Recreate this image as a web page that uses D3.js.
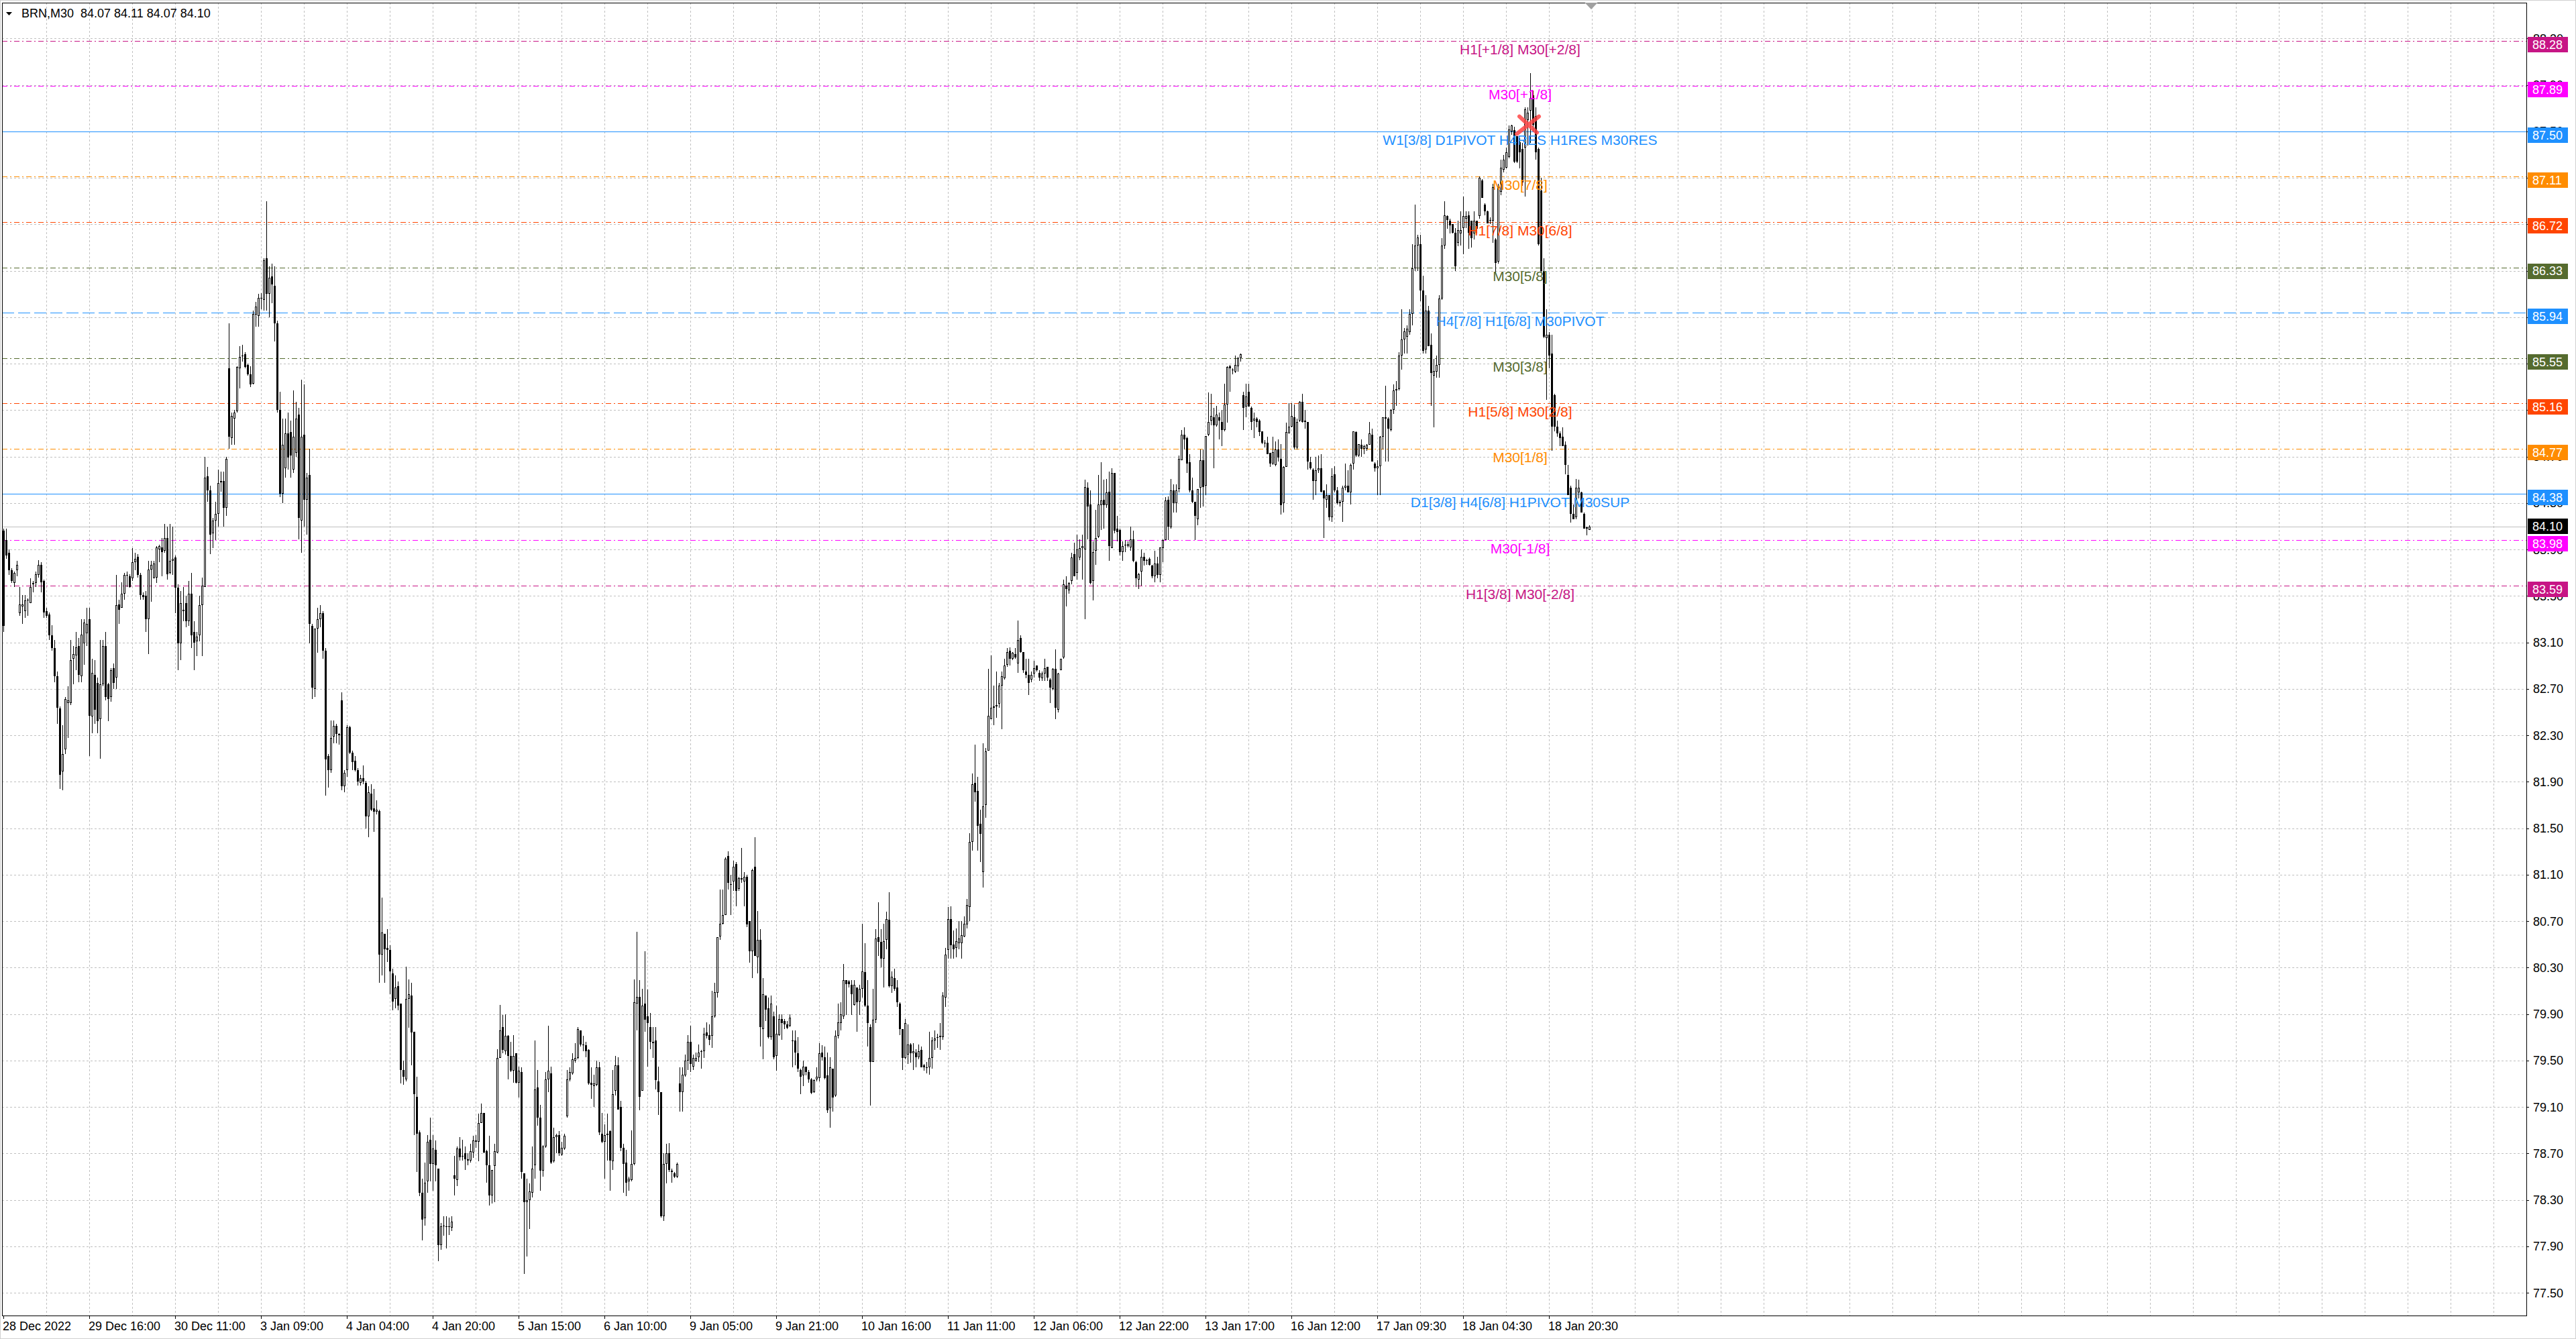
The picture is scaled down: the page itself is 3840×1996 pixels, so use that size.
<!DOCTYPE html>
<html>
<head>
<meta charset="utf-8">
<script src="https://cdn.jsdelivr.net/npm/d3@7"></script>
<style>
  html, body { margin: 0; padding: 0; background: #fff; overflow: hidden; }
  svg { display: block; }
</style>
</head>
<body>
<svg id="chart"></svg>
<script>
// ---- data ----
const chartTitle = 'BRN,M30  84.07 84.11 84.07 84.10';

const timeLabels = ['28 Dec 2022', '29 Dec 16:00', '30 Dec 11:00', '3 Jan 09:00', '4 Jan 04:00',
  '4 Jan 20:00', '5 Jan 15:00', '6 Jan 10:00', '9 Jan 05:00', '9 Jan 21:00', '10 Jan 16:00',
  '11 Jan 11:00', '12 Jan 06:00', '12 Jan 22:00', '13 Jan 17:00', '16 Jan 12:00',
  '17 Jan 09:30', '18 Jan 04:30', '18 Jan 20:30'];
const timeLabelBars = [0, 32, 64, 96, 128, 160, 192, 224, 256, 288, 320, 352, 384, 416, 448, 480, 512, 544, 576];

const priceTicks = [77.50, 77.90, 78.30, 78.70, 79.10, 79.50, 79.90, 80.30, 80.70, 81.10, 81.50,
  81.90, 82.30, 82.70, 83.10, 83.50, 83.90, 84.30, 84.70, 85.10, 85.50, 85.90, 86.30, 86.70,
  87.10, 87.50, 87.90, 88.30];

const levelPrices = [88.28, 87.89, 87.50, 87.11, 86.72, 86.33, 85.94, 85.55, 85.16, 84.77, 84.38, 83.98, 83.59];
const levelNames = ['H1[+1/8] M30[+2/8]', 'M30[+1/8]', 'W1[3/8] D1PIVOT H4RES H1RES M30RES', 'M30[7/8]',
  'H1[7/8] M30[6/8]', 'M30[5/8]', 'H4[7/8] H1[6/8] M30PIVOT', 'M30[3/8]', 'H1[5/8] M30[2/8]', 'M30[1/8]',
  'D1[3/8] H4[6/8] H1PIVOT M30SUP', 'M30[-1/8]', 'H1[3/8] M30[-2/8]'];

const bidPrice = 84.10;
const crossBar = 568;
const crossPrice = 87.56;

// [open, high, low, close] per M30 bar
const candles = [
[84.06,84.08,83.19,83.24],[83.98,84.08,83.82,83.85],[83.87,83.90,83.68,83.72],[83.72,83.74,83.61,83.63],[83.61,83.71,83.58,83.70],[83.72,83.80,83.67,83.77],
[83.35,83.58,83.33,83.43],[83.41,83.51,83.26,83.43],[83.37,83.51,83.31,83.46],[83.46,83.48,83.33,83.47],[83.44,83.65,83.44,83.58],[83.60,83.63,83.53,83.61],
[83.61,83.71,83.58,83.69],[83.68,83.81,83.66,83.77],[83.77,83.79,83.53,83.62],[83.63,83.64,83.31,83.36],[83.37,83.40,83.31,83.33],[83.34,83.36,83.12,83.16],
[83.16,83.25,83.03,83.05],[83.05,83.12,82.76,82.81],[82.81,82.85,82.40,82.54],[82.53,82.55,81.84,81.96],[81.99,82.39,81.83,82.14],[82.18,82.63,82.14,82.61],
[82.58,82.72,82.28,82.60],[82.58,83.12,82.56,82.95],[82.96,83.07,82.74,83.00],[82.99,83.19,82.86,83.06],[83.07,83.14,82.76,82.82],[82.81,83.30,82.76,83.17],
[83.09,83.30,82.91,83.27],[83.18,83.40,83.07,83.26],[83.30,83.40,82.12,82.47],[82.46,82.96,82.32,82.84],[82.82,82.95,82.40,82.52],[82.75,82.80,82.32,82.42],
[82.44,83.12,82.10,82.74],[82.74,83.12,82.72,83.07],[83.07,83.19,82.60,82.63],[82.74,82.75,82.42,82.61],[82.63,82.88,82.59,82.86],[82.88,82.92,82.70,82.75],
[82.80,83.68,82.70,83.42],[83.43,83.47,83.26,83.38],[83.40,83.62,83.40,83.52],[83.52,83.70,83.47,83.68],[83.68,83.71,83.58,83.68],[83.67,83.69,83.57,83.58],
[83.65,83.91,83.63,83.79],[83.79,83.87,83.72,83.82],[83.84,83.86,83.66,83.68],[83.68,83.70,83.47,83.51],[83.51,83.53,83.47,83.49],[83.50,83.54,83.19,83.30],
[83.30,83.80,83.00,83.73],[83.73,83.80,83.45,83.77],[83.65,83.80,83.65,83.78],[83.66,83.93,83.61,83.92],[83.90,83.94,83.79,83.93],[83.92,84.00,83.67,83.88],
[83.89,84.12,83.87,84.00],[84.00,84.10,83.64,83.69],[83.70,84.12,83.69,83.80],[83.80,84.10,83.68,83.82],[83.83,83.85,83.35,83.57],[83.57,83.60,82.86,83.09],
[83.09,83.54,82.95,83.44],[83.37,83.58,83.28,83.38],[83.44,83.50,83.23,83.28],[83.28,83.63,83.24,83.52],[83.52,83.70,83.05,83.16],[83.19,83.28,82.86,83.10],
[83.11,83.19,82.98,83.15],[83.16,83.50,83.11,83.42],[83.42,83.66,82.98,83.59],[83.58,84.70,83.58,84.52],[84.53,84.61,84.31,84.41],[84.41,84.45,83.86,84.03],
[84.04,84.17,83.91,84.15],[84.15,84.31,83.98,84.21],[84.21,84.59,84.10,84.47],[84.48,84.57,84.40,84.49],[84.49,84.57,84.10,84.26],[84.26,84.70,84.19,84.68],
[85.46,85.85,84.77,84.87],[84.86,85.08,84.80,85.05],[85.03,85.10,84.80,85.08],[85.09,85.48,85.08,85.47],[85.46,85.65,85.29,85.56],[85.57,85.66,85.52,85.57],
[85.58,85.60,85.46,85.47],[85.49,85.50,85.40,85.41],[85.41,85.48,85.30,85.32],[85.33,85.96,85.32,85.93],[85.92,86.03,85.82,85.99],[85.91,86.10,85.82,86.07],
[86.06,86.11,85.97,86.07],[86.05,86.41,85.96,86.39],[86.41,86.90,85.96,86.10],[86.10,86.34,85.90,86.24],[86.25,86.36,86.02,86.18],[86.17,86.34,85.69,85.85],
[85.85,85.87,85.08,85.10],[85.10,85.26,84.35,84.38],[84.38,85.03,84.30,84.80],[84.60,85.03,84.52,84.90],[84.90,85.08,84.59,84.69],[84.91,85.01,84.52,84.71],
[84.59,85.27,84.56,84.87],[84.73,85.17,84.70,85.03],[85.06,85.12,83.99,84.17],[84.15,85.36,83.87,84.87],[84.89,85.32,84.10,84.33],[84.33,84.56,84.03,84.52],
[84.54,84.77,83.09,83.26],[83.24,83.26,82.61,82.71],[82.70,83.22,82.63,83.22],[83.22,83.40,83.01,83.30],[83.30,83.42,83.23,83.35],[83.35,83.37,82.96,83.03],
[83.03,83.05,81.78,82.09],[82.12,82.14,81.85,82.00],[82.00,82.43,81.98,82.28],[82.29,82.43,82.23,82.38],[82.38,82.40,82.23,82.31],[82.31,82.32,82.22,82.30],
[82.60,82.67,81.83,81.86],[81.86,82.00,81.81,81.98],[82.00,82.39,81.94,82.37],[82.37,82.38,82.14,82.15],[82.15,82.17,82.00,82.07],[82.08,82.12,81.99,82.00],
[82.00,82.02,81.87,81.90],[81.89,81.96,81.87,81.93],[81.93,82.04,81.88,81.90],[81.89,81.91,81.50,81.60],[81.60,81.86,81.42,81.81],[81.80,81.88,81.65,81.66],
[81.67,81.84,81.47,81.64],[81.64,81.74,81.62,81.66],[81.65,81.66,80.17,80.41],[80.41,80.90,80.23,80.60],[80.59,80.59,80.17,80.46],[80.47,80.63,80.35,80.45],
[80.45,80.49,80.07,80.27],[80.25,80.29,79.93,80.01],[80.03,80.23,79.95,80.13],[80.14,80.18,79.93,79.97],[79.99,79.99,79.30,79.42],[79.42,79.50,79.29,79.36],
[79.34,80.31,79.32,80.03],[80.03,80.20,79.78,80.07],[80.06,80.17,79.46,79.74],[79.75,79.75,78.86,79.21],[79.19,79.36,78.54,78.87],[78.88,78.90,78.33,78.36],
[78.36,78.48,77.95,78.13],[78.14,78.62,78.08,78.45],[78.46,78.86,78.36,78.80],[78.82,79.01,78.46,78.61],[78.61,78.86,78.38,78.74],[78.73,78.81,78.46,78.60],
[78.57,78.57,77.77,77.91],[77.91,78.10,77.87,78.07],[78.07,78.16,77.99,78.08],[78.07,78.16,77.88,78.07],[78.07,78.15,78.00,78.07],[78.06,78.16,78.03,78.11],
[78.51,78.68,78.34,78.48],[78.47,78.76,78.42,78.74],[78.74,78.84,78.64,78.67],[78.68,78.82,78.64,78.68],[78.70,78.76,78.56,78.65],[78.65,78.70,78.60,78.64],
[78.64,78.78,78.62,78.72],[78.71,78.85,78.66,78.81],[78.81,78.86,78.75,78.80],[78.80,79.04,78.63,78.96],[78.96,79.13,78.96,79.05],[79.05,79.05,78.70,78.71],
[78.72,78.73,78.45,78.60],[78.60,78.85,78.25,78.34],[78.34,78.56,78.27,78.56],[78.59,78.78,78.28,78.72],[78.71,79.60,78.70,79.52],[79.52,79.98,79.52,79.76],
[79.79,79.89,79.56,79.59],[79.58,79.90,79.55,79.71],[79.71,79.72,79.34,79.54],[79.54,79.66,79.40,79.41],[79.41,79.72,79.31,79.54],[79.56,79.56,79.30,79.31],
[79.31,79.45,79.18,79.41],[79.40,79.44,78.48,78.54],[78.53,78.53,77.66,78.28],[78.28,78.48,77.81,78.30],[78.30,78.44,78.05,78.37],[78.36,78.76,78.32,78.57],
[78.60,79.67,78.48,79.25],[79.27,79.42,78.94,79.01],[79.01,79.12,78.38,78.55],[78.55,78.77,78.50,78.76],[78.76,79.40,78.75,79.34],[79.34,79.80,79.23,79.41],
[79.39,79.45,78.61,78.62],[78.63,78.92,78.62,78.84],[78.84,78.87,78.70,78.86],[78.86,78.89,78.68,78.70],[78.69,78.80,78.68,78.75],[78.74,78.87,78.73,78.85],
[79.02,79.42,79.01,79.34],[79.34,79.44,79.32,79.40],[79.39,79.56,79.38,79.51],[79.50,79.65,79.48,79.52],[79.52,79.79,79.51,79.77],[79.76,79.76,79.62,79.64],
[79.64,79.71,79.58,79.63],[79.63,79.66,79.53,79.58],[79.59,79.60,79.29,79.30],[79.31,79.44,79.17,79.29],[79.28,79.38,79.10,79.30],[79.29,79.50,79.28,79.44],
[79.44,79.49,78.86,78.88],[78.87,79.05,78.79,78.80],[78.80,78.95,78.48,78.86],[78.87,79.04,78.64,78.86],[78.89,78.90,78.38,78.64],[78.63,79.42,78.56,79.21],
[79.24,79.54,79.20,79.46],[79.46,79.53,79.08,79.08],[79.10,79.15,78.72,78.75],[78.75,78.78,78.36,78.61],[78.62,78.73,78.33,78.45],[78.46,78.50,78.38,78.48],
[78.47,78.90,78.46,78.61],[78.61,80.20,78.60,80.00],[79.99,80.61,79.76,80.05],[80.05,80.19,79.07,79.19],[79.24,80.12,79.24,79.97],[79.99,80.44,79.75,79.85],
[79.88,80.11,79.45,79.82],[79.79,79.91,79.60,79.66],[79.66,79.79,79.52,79.65],[79.67,79.79,79.25,79.33],[79.32,79.45,79.03,79.23],[79.23,79.23,78.15,78.16],
[78.16,78.70,78.12,78.61],[78.61,78.78,78.44,78.70],[78.70,78.79,78.54,78.56],[78.55,78.57,78.45,78.54],[78.53,78.54,78.49,78.50],[78.50,78.62,78.49,78.61],
[79.30,79.44,79.06,79.23],[79.23,79.44,79.06,79.38],[79.37,79.55,79.36,79.50],[79.50,79.72,79.42,79.66],[79.66,79.80,79.40,79.47],[79.45,79.55,79.42,79.52],
[79.50,79.57,79.49,79.52],[79.53,79.64,79.49,79.57],[79.58,79.59,79.43,79.58],[79.58,79.78,79.52,79.73],[79.74,79.83,79.69,79.71],[79.72,79.81,79.63,79.68],
[79.71,80.10,79.61,79.88],[79.88,80.17,79.87,80.09],[80.08,80.56,80.04,80.56],[80.57,80.97,80.54,80.68],[80.68,80.97,80.67,80.75],[80.75,81.25,80.75,81.24],
[81.26,81.30,80.97,81.03],[81.02,81.10,80.75,81.01],[81.04,81.22,80.96,81.17],[81.19,81.21,80.83,80.96],[80.98,81.08,80.96,81.07],[81.07,81.33,81.03,81.06],
[81.04,81.12,80.83,81.08],[81.08,81.10,80.65,80.67],[80.70,80.70,80.34,80.44],[80.44,81.15,80.21,81.14],[81.17,81.42,80.40,80.40],[80.39,80.79,80.25,80.54],
[80.54,80.63,79.62,79.79],[79.77,80.21,79.51,80.07],[80.06,80.06,79.84,79.94],[79.95,80.04,79.69,79.70],[79.70,80.06,79.68,79.99],[79.88,79.92,79.51,79.53],
[79.54,79.97,79.41,79.73],[79.72,79.90,79.71,79.86],[79.86,79.90,79.68,79.82],[79.84,79.86,79.77,79.81],[79.81,79.84,79.77,79.78],[79.80,79.90,79.79,79.87],
[79.67,79.76,79.44,79.67],[79.67,79.76,79.46,79.57],[79.56,79.70,79.40,79.43],[79.42,79.43,79.21,79.36],[79.37,79.50,79.28,79.45],[79.45,79.45,79.37,79.40],
[79.40,79.42,79.31,79.34],[79.34,79.35,79.21,79.22],[79.23,79.34,79.22,79.33],[79.34,79.44,79.32,79.36],[79.35,79.65,79.32,79.56],[79.57,79.63,79.50,79.53],
[79.53,79.62,79.34,79.35],[79.37,79.57,79.05,79.07],[79.09,79.53,78.92,79.44],[79.43,79.43,79.06,79.18],[79.20,79.76,79.19,79.71],[79.71,79.99,79.69,79.83],
[79.82,80.00,79.76,79.90],[79.88,80.33,79.86,80.19],[80.19,80.19,79.89,80.16],[80.18,80.19,80.13,80.16],[80.15,80.19,79.89,80.07],[79.98,80.19,79.97,80.15],
[80.13,80.13,79.75,80.00],[80.01,80.15,79.89,80.12],[80.12,80.68,80.04,80.27],[80.26,80.51,79.96,79.97],[79.97,80.19,79.62,79.82],[79.79,79.81,79.11,79.49],
[79.49,80.12,79.49,79.85],[79.85,80.63,79.82,80.55],[80.56,80.86,80.40,80.52],[80.52,80.63,80.30,80.38],[80.38,80.68,80.13,80.53],[80.54,80.78,80.46,80.72],
[80.71,80.95,80.13,80.14],[80.14,80.27,80.08,80.22],[80.21,80.29,80.10,80.12],[80.13,80.19,79.96,80.00],[79.99,80.00,79.72,79.77],[79.77,79.77,79.42,79.52],
[79.52,79.86,79.51,79.82],[79.55,79.81,79.47,79.64],[79.64,79.65,79.48,79.56],[79.56,79.65,79.42,79.58],[79.57,79.60,79.44,79.53],[79.53,79.64,79.51,79.58],
[79.59,79.62,79.44,79.44],[79.46,79.47,79.41,79.44],[79.44,79.49,79.39,79.44],[79.44,79.75,79.38,79.52],[79.52,79.70,79.43,79.67],[79.67,79.76,79.59,79.69],
[79.70,79.73,79.61,79.70],[79.71,79.82,79.59,79.70],[79.70,80.09,79.68,80.06],[80.04,80.47,79.96,80.41],[80.45,80.82,80.38,80.72],[80.72,80.83,80.38,80.49],
[80.50,80.62,80.38,80.46],[80.47,80.64,80.39,80.53],[80.51,80.70,80.46,80.55],[80.51,80.70,80.38,80.58],[80.57,80.74,80.56,80.68],[80.67,80.89,80.64,80.84],
[80.82,81.46,80.70,81.38],[81.38,81.97,81.31,81.88],[81.89,82.22,81.73,81.81],[81.82,81.94,81.31,81.52],[81.54,81.66,81.21,81.45],[81.12,82.23,80.99,81.69],
[81.70,82.19,81.59,82.16],[82.17,82.87,82.17,82.47],[82.44,82.99,82.44,82.54],[82.54,82.73,82.39,82.55],[82.55,82.85,82.45,82.56],[82.57,82.75,82.54,82.73],
[82.73,82.85,82.35,82.81],[82.79,82.96,82.78,82.90],[82.91,83.05,82.89,83.02],[83.03,83.06,82.90,82.96],[82.96,83.02,82.95,83.01],[83.00,83.05,82.96,82.97],
[82.92,83.29,82.84,83.12],[83.14,83.16,83.01,83.02],[83.02,83.02,82.84,82.86],[82.85,82.96,82.79,82.82],[82.82,82.96,82.65,82.75],[82.78,82.85,82.76,82.82],
[82.83,82.94,82.80,82.88],[82.90,82.90,82.85,82.86],[82.84,82.86,82.77,82.80],[82.79,82.85,82.77,82.83],[82.83,82.96,82.77,82.88],[82.89,82.89,82.77,82.80],
[82.78,82.79,82.58,82.71],[82.70,82.88,82.69,82.87],[82.87,83.04,82.44,82.54],[82.52,82.84,82.50,82.83],[82.86,82.96,82.86,82.96],[82.97,83.64,82.96,83.60],
[83.59,83.67,83.41,83.56],[83.55,83.62,83.52,83.61],[83.63,83.87,83.60,83.83],[83.86,83.96,83.67,83.67],[83.70,84.03,83.64,83.90],[83.83,83.99,83.81,83.91],
[83.91,84.03,83.64,83.93],[83.90,84.50,83.30,84.44],[84.43,84.48,83.99,84.27],[84.29,84.41,83.60,83.61],[83.63,83.97,83.46,83.88],[83.89,84.24,83.77,84.00],
[84.01,84.54,84.00,84.29],[84.28,84.65,84.07,84.32],[84.33,84.50,84.08,84.28],[84.28,84.51,84.26,84.39],[84.40,84.57,83.80,83.93],[83.91,84.60,83.91,84.56],
[84.56,84.56,84.04,84.06],[84.08,84.19,83.97,84.05],[84.07,84.08,83.85,83.88],[83.88,83.97,83.80,83.93],[83.94,83.98,83.88,83.94],[83.93,83.97,83.92,83.95],
[83.92,84.10,83.89,83.99],[83.99,84.06,83.79,83.80],[83.79,83.80,83.58,83.65],[83.64,83.70,83.56,83.69],[83.71,83.90,83.59,83.84],[83.84,83.87,83.76,83.80],
[83.81,83.82,83.77,83.81],[83.82,83.83,83.76,83.77],[83.76,83.77,83.65,83.67],[83.67,83.89,83.62,83.78],[83.78,83.84,83.65,83.68],[83.68,83.92,83.62,83.92],
[83.91,83.99,83.79,83.98],[83.98,84.35,83.98,84.32],[84.33,84.36,83.98,84.10],[84.09,84.51,84.08,84.41],[84.41,84.46,84.22,84.30],[84.30,84.46,84.22,84.41],
[84.42,84.71,84.39,84.68],[84.67,84.93,84.67,84.89],[84.89,84.95,84.76,84.85],[84.86,84.87,84.56,84.64],[84.65,84.72,84.39,84.41],[84.41,84.52,84.30,84.31],
[84.31,84.31,83.98,84.19],[84.16,84.42,84.11,84.42],[84.43,84.76,84.26,84.67],[84.67,84.76,84.27,84.44],[84.45,84.88,84.37,84.88],[84.89,85.25,84.88,85.00],
[85.01,85.24,84.97,85.05],[85.04,85.12,84.60,84.97],[84.97,85.14,84.96,85.06],[85.04,85.08,84.85,85.01],[85.00,85.10,84.79,84.93],[84.93,85.33,84.92,85.15],
[85.15,85.48,84.99,85.47],[85.48,85.49,85.26,85.46],[85.45,85.46,85.41,85.45],[85.43,85.57,85.42,85.49],[85.48,85.56,85.43,85.55],[85.55,85.59,85.52,85.58],
[85.23,85.26,84.93,85.12],[85.13,85.33,85.04,85.22],[85.26,85.33,85.13,85.13],[85.12,85.13,84.93,85.00],[85.01,85.08,84.86,85.03],[85.03,85.04,84.95,85.00],
[85.01,85.02,84.88,84.91],[84.92,84.92,84.81,84.82],[84.82,84.84,84.78,84.82],[84.82,84.87,84.72,84.72],[84.73,84.73,84.61,84.64],[84.64,84.87,84.63,84.74],
[84.63,84.83,84.62,84.76],[84.76,84.85,84.66,84.69],[84.68,84.81,84.20,84.28],[84.30,84.62,84.22,84.61],[84.61,84.99,84.61,84.91],[84.90,85.16,84.90,84.96],
[84.96,85.16,84.95,85.05],[85.04,85.15,84.76,84.78],[84.78,85.03,84.76,85.00],[85.01,85.18,85.00,85.17],[85.17,85.24,84.99,85.00],[85.01,85.10,84.94,85.00],
[85.00,85.00,84.59,84.66],[84.65,84.70,84.59,84.60],[84.59,84.60,84.33,84.49],[84.49,84.70,84.37,84.58],[84.58,84.71,84.56,84.60],[84.60,84.72,84.39,84.40],
[84.41,84.41,84.00,84.34],[84.33,84.46,84.26,84.37],[84.37,84.37,84.15,84.18],[84.18,84.60,84.14,84.53],[84.55,84.62,84.39,84.41],[84.41,84.44,84.29,84.30],
[84.30,84.33,84.27,84.31],[84.31,84.45,84.14,84.43],[84.43,84.64,84.41,84.45],[84.45,84.58,84.39,84.39],[84.39,84.64,84.29,84.63],[84.64,84.92,84.59,84.92],
[84.91,84.92,84.70,84.71],[84.71,84.81,84.70,84.81],[84.80,84.85,84.70,84.77],[84.77,84.80,84.72,84.79],[84.77,84.81,84.75,84.80],[84.80,85.00,84.80,84.90],
[84.89,84.94,84.66,84.66],[84.64,84.65,84.57,84.60],[84.60,84.67,84.37,84.62],[84.62,84.88,84.37,84.87],[84.87,85.04,84.76,85.04],[85.04,85.31,84.66,85.03],
[85.03,85.04,84.66,84.94],[84.93,85.11,84.92,85.10],[85.10,85.32,85.07,85.27],[85.27,85.35,85.14,85.28],[85.28,85.60,85.27,85.57],[85.57,85.97,85.45,85.71],
[85.71,85.81,85.59,85.78],[85.73,85.83,85.59,85.80],[85.77,85.97,85.75,85.93],[85.93,86.53,85.83,86.32],[86.32,86.87,86.30,86.52],[86.52,86.61,86.30,86.59],
[86.53,86.61,86.04,86.13],[86.13,86.26,85.59,85.61],[85.62,86.09,85.59,85.96],[85.96,86.00,85.65,85.65],[85.66,85.76,85.14,85.42],[85.40,85.54,84.95,85.44],
[85.43,85.57,85.38,85.49],[85.49,86.09,85.38,86.06],[86.06,86.58,86.05,86.52],[86.52,86.90,86.49,86.78],[86.77,86.78,86.66,86.74],[86.73,86.75,86.62,86.69],
[86.70,86.70,86.62,86.63],[86.63,86.67,86.30,86.34],[86.54,86.73,86.51,86.65],[86.62,86.81,86.52,86.65],[86.67,86.94,86.44,86.77],[86.75,86.81,86.67,86.77],
[86.78,86.81,86.49,86.63],[86.73,86.73,86.50,86.58],[86.62,86.81,86.57,86.73],[86.73,86.73,86.62,86.66],[86.77,87.11,86.75,87.10],[87.08,87.09,86.93,86.93],
[86.87,86.88,86.78,86.81],[86.81,86.82,86.71,86.71],[86.73,86.76,86.70,86.74],[86.73,87.05,86.54,87.02],[86.57,86.58,86.28,86.37],[86.38,87.05,86.36,87.02],
[86.98,87.26,86.95,87.19],[87.17,87.30,87.15,87.26],[87.19,87.36,87.18,87.32],[87.28,87.55,87.27,87.52],[87.50,87.56,87.47,87.55],[87.51,87.54,87.23,87.24],
[87.46,87.46,87.23,87.24],[87.41,87.44,87.18,87.32],[87.35,87.40,87.03,87.06],[87.36,87.71,86.94,87.69],[87.60,87.71,87.38,87.66],[87.68,88.00,87.40,87.79],
[87.81,87.85,87.50,87.56],[87.63,87.71,87.26,87.32],[87.35,87.36,86.52,86.53],[86.99,87.10,86.28,86.30],[86.30,86.41,85.72,85.73],[85.72,85.97,85.19,85.75],
[85.75,85.77,85.46,85.57],[85.59,85.75,84.75,84.96],[85.23,85.24,84.92,84.96],[84.96,85.01,84.87,84.90],[84.90,84.92,84.79,84.86],[84.87,84.95,84.79,84.79],
[84.80,84.83,84.55,84.63],[84.54,84.63,84.37,84.37],[84.43,84.45,84.13,84.21],[84.21,84.29,84.16,84.16],[84.18,84.51,84.16,84.43],[84.39,84.50,84.34,84.43],
[84.39,84.40,84.22,84.22],[84.21,84.22,84.08,84.08],[84.09,84.10,84.02,84.08],[84.07,84.11,84.07,84.10]
];

// ---- styles ----
const levelColors = ['#c71585', '#ff00ff', '#1e90ff', '#ff8c00', '#ff4500', '#556b2f', '#1e90ff',
  '#556b2f', '#ff4500', '#ff8c00', '#1e90ff', '#ff00ff', '#c71585'];
const levelDash = ['8,4,2,4', '8,4,2,4', null, '8,4,2,4', '8,4,2,4', '8,4,2,4', '18,6',
  '8,4,2,4', '8,4,2,4', '8,4,2,4', null, '8,4,2,4', '8,4,2,4'];

const width = 3840, height = 1996;
const plot = { left: 3, top: 4, right: 3766, bottom: 1961 };
const font = '"Liberation Sans", Arial, sans-serif';

const svg = d3.select('#chart').attr('width', width).attr('height', height)
  .attr('viewBox', [0, 0, width, height]);

svg.append('rect').attr('width', width).attr('height', height).attr('fill', '#fff');

// bar index -> pixel column (4 px per bar)
const x = d3.scaleLinear().domain([-1.25, 940.25]).range([0, plot.right]);
const y = d3.scaleLinear().domain([77.304, 88.609]).range([plot.bottom, plot.top]);

const px = v => Math.round(v) + 0.5;

// grid
const grid = svg.append('g').attr('stroke', '#c0c0c0').attr('stroke-width', 1)
  .attr('stroke-dasharray', '3,3').attr('shape-rendering', 'crispEdges');
grid.selectAll('line.h').data(priceTicks).join('line')
  .attr('x1', plot.left).attr('x2', plot.right)
  .attr('y1', d => px(y(d))).attr('y2', d => px(y(d)));
const vBars = d3.range(16, 941, 16);
grid.selectAll('line.v').data(vBars).join('line')
  .attr('x1', d => px(x(d))).attr('x2', d => px(x(d)))
  .attr('y1', plot.top).attr('y2', plot.bottom);

// level lines
const levels = svg.append('g').attr('shape-rendering', 'crispEdges');
levels.selectAll('line').data(levelPrices).join('line')
  .attr('x1', plot.left).attr('x2', plot.right)
  .attr('y1', d => px(y(d))).attr('y2', d => px(y(d)))
  .attr('stroke', (d, i) => levelColors[i])
  .attr('stroke-dasharray', (d, i) => levelDash[i]);

// bid line
svg.append('line').attr('x1', plot.left).attr('x2', plot.right)
  .attr('y1', px(y(bidPrice))).attr('y2', px(y(bidPrice)))
  .attr('stroke', '#c0c0c0').attr('shape-rendering', 'crispEdges');

// candles
const bars = svg.append('g').attr('shape-rendering', 'crispEdges');
candles.forEach((c, i) => {
  const [o, h, l, cl] = c;
  const xc = Math.round(x(i));
  const yh = Math.round(y(h)), yl = Math.round(y(l));
  bars.append('rect').attr('x', xc).attr('y', yh).attr('width', 1)
    .attr('height', Math.max(1, yl - yh)).attr('fill', '#000');
  const top = Math.round(y(Math.max(o, cl)));
  const bot = Math.round(y(Math.min(o, cl)));
  const hgt = Math.max(1, bot - top);
  bars.append('rect').attr('x', xc - 1).attr('y', top).attr('width', 3)
    .attr('height', hgt).attr('fill', '#000');
  if (cl > o && hgt > 2) {
    bars.append('rect').attr('x', xc).attr('y', top + 1).attr('width', 1)
      .attr('height', hgt - 2).attr('fill', '#fff');
  }
});

// level captions
svg.append('g').attr('font-family', font).attr('font-size', 21).attr('text-anchor', 'middle')
  .selectAll('text').data(levelNames).join('text')
  .attr('x', 2266).attr('y', (d, i) => y(levelPrices[i]) + 20)
  .attr('fill', (d, i) => levelColors[i])
  .text(d => d);

// cross marker
const cx = x(crossBar), cy = y(crossPrice);
svg.append('path')
  .attr('d', `M${cx - 16},${cy + 14}L${cx + 17},${cy - 12}M${cx - 12},${cy - 12}L${cx + 14},${cy + 12}`)
  .attr('stroke', '#ff4545').attr('stroke-width', 6).attr('stroke-linecap', 'round')
  .attr('opacity', 0.85).attr('fill', 'none');

// frame
svg.append('rect').attr('x', plot.left + 0.5).attr('y', plot.top + 0.5)
  .attr('width', plot.right - plot.left).attr('height', plot.bottom - plot.top)
  .attr('fill', 'none').attr('stroke', '#000').attr('shape-rendering', 'crispEdges');

// price axis
const axisY = svg.append('g').attr('font-family', font).attr('font-size', 18);
axisY.selectAll('line').data(priceTicks).join('line')
  .attr('x1', plot.right).attr('x2', plot.right + 4)
  .attr('y1', d => px(y(d))).attr('y2', d => px(y(d)))
  .attr('stroke', '#000').attr('shape-rendering', 'crispEdges');
axisY.selectAll('text').data(priceTicks).join('text')
  .attr('x', 3776).attr('y', d => y(d)).attr('dy', '0.36em')
  .attr('fill', '#000').text(d => d.toFixed(2));

// price tags for levels
const tags = svg.append('g').attr('font-family', font).attr('font-size', 18);
levelPrices.forEach((p, i) => {
  const yc = y(p) + 5.5;
  tags.append('rect').attr('x', 3768).attr('y', Math.round(yc - 11.5)).attr('width', 60).attr('height', 23)
    .attr('fill', levelColors[i]);
  tags.append('text').attr('x', 3775).attr('y', yc).attr('dy', '0.36em').attr('fill', '#fff')
    .text(p.toFixed(2));
});
const yb = y(bidPrice);
tags.append('rect').attr('x', 3768).attr('y', Math.round(yb - 11.5)).attr('width', 60).attr('height', 23)
  .attr('fill', '#000');
tags.append('text').attr('x', 3775).attr('y', yb).attr('dy', '0.36em').attr('fill', '#fff')
  .text(bidPrice.toFixed(2));

// time axis
const axisX = svg.append('g').attr('font-family', font).attr('font-size', 18);
axisX.selectAll('line').data(timeLabelBars).join('line')
  .attr('x1', d => px(x(d))).attr('x2', d => px(x(d)))
  .attr('y1', plot.bottom).attr('y2', plot.bottom + 5)
  .attr('stroke', '#000').attr('shape-rendering', 'crispEdges');
axisX.selectAll('text').data(timeLabels).join('text')
  .attr('x', (d, i) => x(timeLabelBars[i]) - 1).attr('y', 1983)
  .attr('fill', '#000').text(d => d);

// header
svg.append('path').attr('d', 'M9,18L18,18L13.5,23Z').attr('fill', '#000');
svg.append('text').attr('x', 32).attr('y', 26).attr('font-family', font).attr('font-size', 18)
  .attr('fill', '#000').attr('xml:space', 'preserve').style('white-space', 'pre').text(chartTitle);

// chart shift marker
const sx = x(candles.length - 1) + 3;
svg.append('path').attr('d', `M${sx - 9.5},4L${sx + 9.5},4L${sx},14Z`).attr('fill', '#a0a0a0');

// window edge
svg.append('rect').attr('x', 0.5).attr('y', 0.5).attr('width', width - 1).attr('height', height - 1)
  .attr('fill', 'none').attr('stroke', '#d0d0d0');
</script>
</body>
</html>
